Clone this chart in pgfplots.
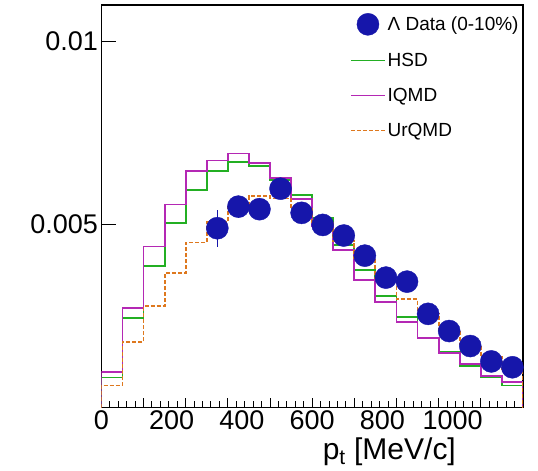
\documentclass[border=0pt]{standalone}
\usepackage{fontspec}
\setmainfont{Liberation Sans}
\usepackage{pgfplots}
\pgfplotsset{compat=1.18}
\definecolor{datablue}{RGB}{22,22,170}
\definecolor{hsdgreen}{RGB}{35,175,35}
\definecolor{iqmdmag}{RGB}{180,40,180}
\definecolor{urqmdorange}{RGB}{222,120,30}
\pgfplotsset{
  histleg/.style={legend image code/.code={\draw[##1, line width=1.2bp] (0bp,0bp) -- (34bp,0bp);}},
  dataleg/.style={legend image code/.code={\draw[##1, mark repeat=2, mark phase=2]
    plot coordinates {(0bp,0bp) (17bp,0bp) (34bp,0bp)};}},
  hist/.style={const plot mark left, no marks, line width=1.8bp},
}
\begin{document}
\begin{tikzpicture}
\begin{axis}[
  width=420bp, height=401bp, scale only axis,
  xmin=0, xmax=1200, ymin=0, ymax=0.011,
  axis line style={line width=1.2bp},
  tick pos=left, tick align=inside,
  tick style={line width=1bp, black},
  major tick length=9bp, minor tick length=6bp,
  xtick={0,120,...,1200}, xticklabels={},
  minor x tick num=4,
  extra x ticks={0,200,400,600,800,1000},
  extra x tick labels={0,200,400,600,800,1000},
  extra x tick style={major tick length=0bp},
  ytick=\empty,
  minor ytick={0.001,0.002,0.003,0.004,0.005,0.006,0.007,0.008,0.009,0.010,0.011},
  extra y ticks={0.005,0.01},
  extra y tick labels={0.005,0.01},
  extra y tick style={major tick length=15bp},
  scaled y ticks=false,
  tick label style={font=\fontsize{27}{27}\selectfont},
  /pgf/number format/assume math mode=true,
  xlabel={p\textsubscript{t} [MeV/c]},
  xlabel style={at={(axis description cs:0.683,0)}, anchor=base, yshift=-52bp,
    font=\fontsize{30}{30}\selectfont, inner sep=0pt},
  legend style={draw=none, fill=none, at={(axis description cs:0.59,0.98)},
    anchor=north west, font=\fontsize{19}{19}\selectfont, row sep=16bp,
    inner sep=0pt},
  legend cell align=left,
]
\addplot[only marks, mark=*, mark size=11bp, color=datablue,
  mark options={fill=datablue, draw=datablue}, dataleg,
  error bars/.cd, y dir=both, y explicit,
  error bar style={line width=1.6bp, datablue}, error mark=none]
  coordinates {
  (330,0.00490) +- (0,0.00050)
  (390,0.00549) +- (0,0.00030)
  (450,0.00542) +- (0,0.00010)
  (510,0.00598) +- (0,0.00010)
  (570,0.00532) +- (0,0.00010)
  (630,0.00499) +- (0,0.00010)
  (690,0.00470) +- (0,0.00010)
  (750,0.00415) +- (0,0.00010)
  (810,0.00355) +- (0,0.00010)
  (870,0.00344) +- (0,0.00010)
  (930,0.00256) +- (0,0.00010)
  (990,0.00209) +- (0,0.00010)
  (1050,0.00168) +- (0,0.00010)
  (1110,0.00126) +- (0,0.00010)
  (1170,0.00110) +- (0,0.00010)
  };
\addlegendentry{Λ Data (0-10\%)}
\addplot[hist, hsdgreen, histleg] coordinates {
  (0,0) (0,0.00082) (60,0.00245) (120,0.00387) (180,0.00505) (240,0.00595)
  (300,0.00646) (360,0.00671) (420,0.00660) (480,0.00621) (540,0.00581)
  (600,0.00517) (660,0.00445) (720,0.00375) (780,0.00304) (840,0.00248)
  (900,0.00190) (960,0.00152) (1020,0.00113) (1080,0.00084) (1140,0.00060)
  (1200,0.00060) (1200,0)
  };
\addlegendentry{HSD}
\addplot[hist, iqmdmag, histleg] coordinates {
  (0,0) (0,0.00097) (60,0.00271) (120,0.00440) (180,0.00555) (240,0.00646)
  (300,0.00675) (360,0.00694) (420,0.00668) (480,0.00627) (540,0.00570)
  (600,0.00495) (660,0.00430) (720,0.00348) (780,0.00289) (840,0.00234)
  (900,0.00189) (960,0.00149) (1020,0.00119) (1080,0.00087) (1140,0.00070)
  (1200,0.00070) (1200,0)
  };
\addlegendentry{IQMD}
\addplot[hist, urqmdorange, histleg, dash pattern=on 4bp off 2bp] coordinates {
  (0,0) (0,0.00060) (60,0.00179) (120,0.00277) (180,0.00367) (240,0.00451)
  (300,0.00506) (360,0.00548) (420,0.00578) (480,0.00571) (540,0.00543)
  (600,0.00506) (660,0.00456) (720,0.00408) (780,0.00355) (840,0.00296)
  (900,0.00257) (960,0.00211) (1020,0.00172) (1080,0.00138) (1140,0.00106)
  (1200,0.00106) (1200,0)
  };
\addlegendentry{UrQMD}
\end{axis}
\pgfresetboundingbox
\path ([xshift=-101bp,yshift=-63bp]current axis.south west)
  rectangle ([xshift=15bp,yshift=5bp]current axis.north east);
\end{tikzpicture}
\end{document}
